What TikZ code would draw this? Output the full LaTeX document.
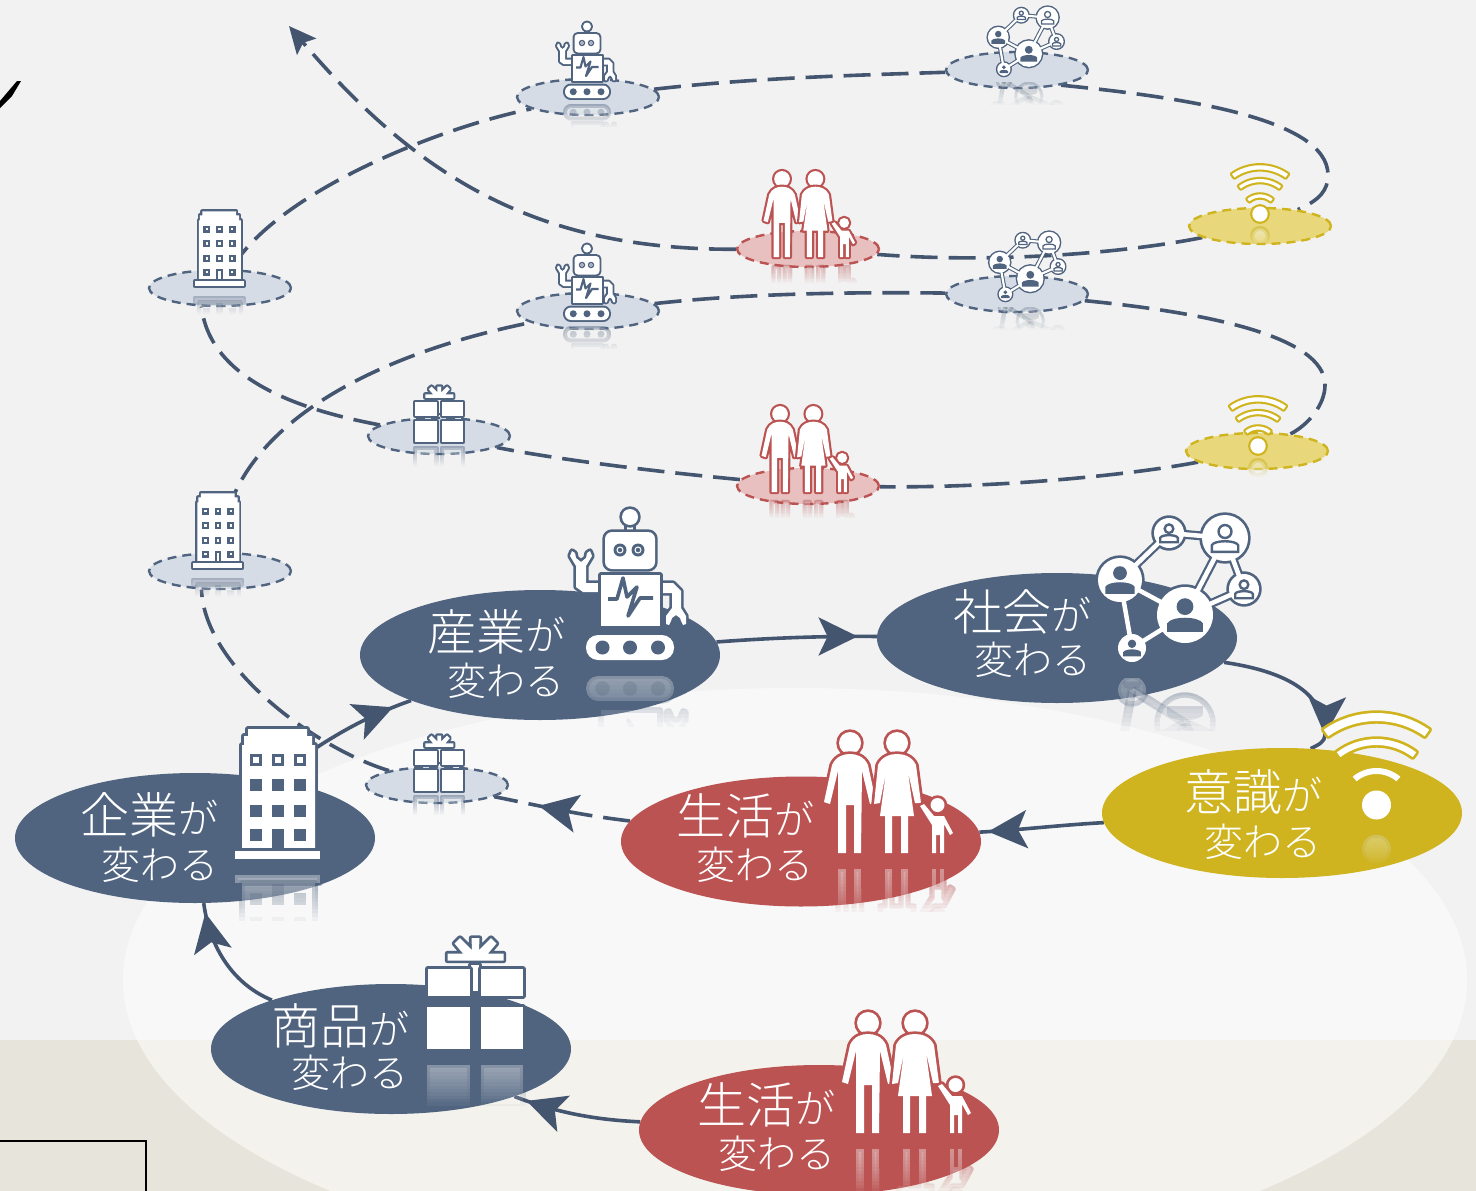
\documentclass[tikz,border=0pt]{standalone}
\usepackage{fontspec}
\setmainfont{Noto Sans CJK JP Light}
\usetikzlibrary{shapes.geometric,arrows.meta,decorations.markings}
\definecolor{iblue}{HTML}{506480}
\definecolor{ired}{HTML}{BC5353}
\definecolor{iyellow}{HTML}{CFB41F}
\definecolor{lineblue}{HTML}{44556F}
\definecolor{sblue}{HTML}{D5DCE6}
\definecolor{sred}{HTML}{E9C0C0}
\definecolor{syellow}{HTML}{E9D87B}
\definecolor{floorc}{HTML}{E7E5DB}
\definecolor{wallc}{HTML}{F2F2F2}
\pgfdeclarelayer{back}
\pgfsetlayers{back,main}
\colorlet{iconc}{iblue}
\def\iconlw{3pt}
\def\iconsc{1}
\tikzset{
  ico/.style={preaction={draw=iconc,line width=1.8*\iconlw,line join=round},fill=white},
  bigell/.style={shape=ellipse,minimum width=360pt,minimum height=130pt,inner sep=0pt},
  smallell/.style={shape=ellipse,minimum width=142pt,minimum height=36pt,inner sep=0pt,line width=2.4pt,dash pattern=on 9pt off 6pt},
  sb/.style={smallell,fill=sblue,draw=iblue},
  sr/.style={smallell,fill=sred,draw=ired},
  sy/.style={smallell,fill=syellow,draw=iyellow},
  lbl/.style={text=white,inner sep=0pt,font=\fontsize{49}{49}\selectfont},
  lbltwo/.style={text=white,inner sep=0pt,font=\fontsize{39}{39}\selectfont},
  conn/.style={draw=lineblue,line width=3.6pt},
  dconn/.style={conn,dash pattern=on 27pt off 11pt},
  bigarrow/.tip={Stealth[length=39pt,width=38pt,inset=9pt]},
  midarrow/.style={postaction={decorate,decoration={markings,mark=at position #1 with {\arrow[lineblue]{bigarrow}}}}}
}
\newcommand\ga{{\fontsize{40}{40}\selectfont が}}
% ---------- icons, drawn in the coordinates of their large copies
\newcommand\robotic{\begin{scope}[shift={(-630,-660)}]
 \path[ico] (627,523) rectangle (633,534);
 \path[ico] (630,517) circle[radius=8];
 \path[ico,rounded corners=7pt*\iconsc] (605,532) rectangle (655,569);
 \foreach \ex in {620,638}{\fill[iconc] (\ex,550) circle[radius=6.5];\draw[white,line width=1pt*\iconsc] (\ex,550) circle[radius=3];}
 \path[ico] (576,566)--(570,556)--(572,551)--(575,553)--(576,558)--(581,562)--(586,558)--(587,553)--(590,551)--(592,556)--(586,566)--(586,583)--(602,583)--(602,592)--(583,592)--(576,587)--cycle;
 \path[ico] (660,583)--(673,583)--(681,591)--(681,608)--(686,616)--(686,624)--(683,625)--(681,621)--(680,618)--(676,615)--(672,618)--(671,621)--(669,625)--(666,624)--(666,616)--(672,608)--(672,593)--(660,593)--cycle;
 \path[ico] (601,575) rectangle (660,626);
 \draw[iconc,line width=3pt*\iconsc+.6pt,line join=round] (608,599)--(617,599)--(623,578)--(627,597)--(637,587)--(628,616)--(640,598)--(653,598);
 \path[ico,rounded corners=12pt*\iconsc] (586,635) rectangle (674,660);
 \foreach \wx in {602.5,630,658}{\fill[iconc] (\wx,647.5) circle[radius=7];}
\end{scope}}
\newcommand\personic[4]{\begin{scope}[shift={(#1,#2)},scale=#3]
 \ifnum#4=1
  \fill[iconc] (0,-.3) circle[radius=.3];
  \fill[iconc] (-.64,.6)--(-.64,.3) .. controls (-.5,.03) and (.5,.03) .. (.64,.3)--(.64,.6)--cycle;
 \else
  \draw[draw=iconc,fill=white,line width=.8*\iconlw] (0,-.27) circle[radius=.27];
  \draw[draw=iconc,fill=white,line width=.8*\iconlw] (-.55,.58)--(-.55,.3) .. controls (-.45,.08) and (.45,.08) .. (.55,.3)--(.55,.58)--cycle;
 \fi
\end{scope}}
\newcommand\netic{\begin{scope}[shift={(-1178,-590)}]
 \foreach \ax/\ay/\bx/\by in {1120/580/1169/533,1169/533/1225/538,1225/538/1185/615,1225/538/1244/589,1244/589/1185/615,1120/580/1185/615,1120/580/1132/648,1185/615/1132/648}{
  \draw[iconc,line width=9pt*\iconsc] (\ax,\ay)--(\bx,\by);}
 \path[ico] (1120,580) circle[radius=22];
 \path[ico] (1169,533) circle[radius=15];
 \path[ico] (1225,538) circle[radius=23];
 \path[ico] (1244,589) circle[radius=15];
 \path[ico] (1185,615) circle[radius=28];
 \path[ico] (1132,648) circle[radius=14];
 \foreach \ax/\ay/\bx/\by in {1120/580/1169/533,1169/533/1225/538,1225/538/1185/615,1225/538/1244/589,1244/589/1185/615,1120/580/1185/615,1120/580/1132/648,1185/615/1132/648}{
  \draw[white,line width=4.5pt*\iconsc] (\ax,\ay)--(\bx,\by);}
 \personic{1120}{580}{23}{1}\personic{1169}{533}{16}{0}\personic{1225}{538}{24}{0}\personic{1244}{589}{16}{0}\personic{1185}{615}{28}{1}\personic{1132}{648}{14}{1}
\end{scope}}
\newcommand\wifisector[3]{\path[ico] plot[domain=-90-#3:-90+#3,samples=17] (\x:#1) -- plot[domain=-90+#3:-90-#3,samples=17] (\x:#2) -- cycle;}
\newcommand\wific{%
 \wifisector{92}{84}{35}\wifisector{66}{60}{37}\wifisector{37}{31}{40}%
 \path[ico] (0,0) circle[radius=14.5];}
\newcommand\familyic{\begin{scope}[shift={(-888,-853)}]
 \path[ico] (850,743) circle[radius=11];
 \path[ico] (897,743) circle[radius=11];
 \path[ico] (846,853)--(838,853)--(838,771)--(830,804)--(824,802)--(832,765) .. controls (836,756) and (844,754) .. (850,754) .. controls (856,754) and (864,756) .. (868,765)--(876,802)--(870,804)--(862,771)--(861,853)--(854,853)--(854,805)--(846,805)--cycle;
 \path[ico] (874,804)--(880,803)--(886,772)--(880,816)--(885,816)--(885,853)--(892,853)--(892,816)--(901,816)--(901,853)--(908,853)--(908,816)--(914,816)--(908,772)--(915,803)--(921,803)--(916,765) .. controls (912,756) and (903,754) .. (897,754) .. controls (891,754) and (882,756) .. (878,765)--cycle;
 \path[ico] (937.5,805) circle[radius=7];
 \path[ico] (932,853)--(932,825)--(920,806)--(924,804)--(934,816)--(944,816)--(953,833)--(950,835)--(944,824)--(944,853)--(940,853)--(940,835)--(936,835)--(936,853)--cycle;
\end{scope}}
\newcommand\giftic{\begin{scope}[shift={(-475,-1049)}]
 \path[ico] (454.5,943.5)--(460,938)--(472,950)--(471.5,938)--(479.5,938)--(479,950)--(491,938)--(496.5,943.5)--(488,953.5)--(503.5,953.5)--(503.5,960.5)--(447.5,960.5)--(447.5,953.5)--(463,953.5)--cycle;
 \path[ico] (471,965) rectangle (479,991);
 \path[ico] (427.5,969) rectangle (470,996);
 \path[ico] (480.5,969) rectangle (523,996);
 \path[ico] (427,1007) rectangle (470,1049);
 \path[ico] (481,1007) rectangle (523,1049);
\end{scope}}
\newif\ifsmallwin
\newcommand\buildingic{\begin{scope}[shift={(-278,-859)}]
 \path[ico] (242,851)--(242,745)--(244,745)--(244,736)--(248,736)--(248,729)--(307,729)--(307,736)--(312,736)--(312,745)--(315,745)--(315,851)--cycle;
 \path[ico] (235,851) rectangle (320,859);
 \foreach \wx in {250,272,294}{\foreach \wy in {754,779,805,829}{
   \ifnum\wx=272 \ifnum\wy=829 \else \fill[iconc] (\wx,\wy) rectangle ++(12,12);\fi\else \fill[iconc] (\wx,\wy) rectangle ++(12,12);\fi
   \ifsmallwin \fill[white] (\wx+4,\wy+4) rectangle ++(4,4);\else\ifnum\wy=754 \fill[white] (\wx+3,\wy+3) rectangle ++(6,6);\fi\fi }}
 \fill[iconc] (272,829) rectangle (284,850);
 \ifsmallwin\fill[white] (276,833) rectangle (280,847);\fi
\end{scope}}
% placing: x, y, scale, line width, icon
\newcommand\place[5]{\begingroup\def\iconsc{#3}\def\iconlw{#4}\begin{scope}[shift={(#1,#2)},scale=#3]#5\end{scope}\endgroup}
% reflection: axis y, first y, fade length, start opacity, code (overlapping bands build the fade)
\newcommand\reflectic[5]{\foreach \si in {1,...,12}{%
 \pgfmathsetmacro\sb{#2+\si*(#3)/12}\pgfmathsetmacro\so{1-(1-(#4))^(1/12)}%
 \begin{scope}\clip (0,#2) rectangle (1476,\sb);
 \begin{scope}[opacity=\so,shift={(0,2*#1)},yscale=-1]#5\end{scope}\end{scope}}}
\begin{document}
\begin{tikzpicture}[x=1pt,y=-1pt]
\useasboundingbox (0,0) rectangle (1476,1191);
\begin{pgfonlayer}{back}
 \fill[wallc] (0,0) rectangle (1476,1191);
 \fill[floorc] (0,1040) rectangle (1476,1191);
 \fill[white,opacity=.5] (795,980) ellipse [x radius=672,y radius=292];
 \draw[black,line width=2pt] (0,1141)--(146,1141)--(146,1191);
 \fill[black] (0,101)--(17,81)--(21,81)--(12,96)--(0,108)--cycle;
\end{pgfonlayer}
% big ellipses
\node[bigell,fill=iblue] (shohin) at (391,1049) {};
\node[bigell,fill=iblue] (kigyo) at (195,838) {};
\node[bigell,fill=iblue] (sangyo) at (540,655) {};
\node[bigell,fill=iblue] (shakai) at (1057,638) {};
\node[bigell,fill=iyellow] (ishiki) at (1282,813) {};
\node[bigell,fill=ired] (seikatsu) at (801,841.5) {};
\node[bigell,fill=ired] (seikatsub) at (819,1130) {};
% small ellipses
\node[sb] (robota) at (588,97) {};
\node[sb] (neta) at (1017,70) {};
\node[sy] (wifia) at (1260,226) {};
\node[sr] (fama) at (808,249) {};
\node[sb] (blda) at (220,288) {};
\node[sb] (robotb) at (588,311) {};
\node[sb] (netb) at (1017,294) {};
\node[sy] (wifib) at (1257,451) {};
\node[sr] (famb) at (808,486) {};
\node[sb] (gifta) at (439,436) {};
\node[sb] (bldb) at (220,571) {};
\node[sb] (giftb) at (437,785) {};
\coordinate (turna) at (1328,175);
\coordinate (turnb) at (1325,385);
\coordinate (turnc) at (1325,735);
\coordinate (atip) at (289,26);
% connectors
\begin{pgfonlayer}{back}
 \draw[conn,midarrow=.9] (seikatsub) .. controls (600,1120) and (560,1114) .. (shohin);
 \draw[conn,midarrow=.92] (shohin) .. controls (235,985) and (210,950) .. (kigyo);
 \draw[conn,midarrow=.88] (kigyo) .. controls (330,735) and (370,715) .. (sangyo);
 \draw[conn,midarrow=.88] (sangyo) .. controls (770,638) and (820,636) .. (shakai);
 \draw[conn,midarrow=.87] (shakai) .. controls (1290,672) and (1325,695) .. (turnc) .. controls (1325,742) and (1318,745) .. (ishiki.66);
 \draw[conn,midarrow=.93] (ishiki) .. controls (1060,825) and (1020,830) .. (seikatsu);
 \draw[dconn,midarrow=.67] (seikatsu) .. controls (580,815) and (550,808) .. (giftb);
 \draw[dconn] (giftb) .. controls (320,750) and (205,670) .. (bldb.225);
 \draw[dconn] (bldb) .. controls (225,430) and (370,355) .. (robotb);
 \draw[dconn] (robotb) .. controls (750,293) and (860,292) .. (netb);
 \draw[dconn] (netb) .. controls (1200,312) and (1325,335) .. (turnb) .. controls (1325,405) and (1308,425) .. (wifib);
 \draw[dconn] (wifib) .. controls (1130,475) and (1000,488) .. (famb);
 \draw[dconn] (famb) .. controls (660,472) and (560,460) .. (gifta);
 \draw[dconn] (gifta) .. controls (300,410) and (210,380) .. (blda.225);
 \draw[dconn] (blda) .. controls (275,195) and (430,130) .. (robota);
 \draw[dconn] (robota) .. controls (750,78) and (860,75) .. (neta);
 \draw[dconn] (neta.-19) .. controls (1180,97) and (1328,118) .. (turna) .. controls (1328,190) and (1320,200) .. (wifia);
 \draw[dconn] (wifia) .. controls (1130,252) and (1000,264) .. (fama);
 \draw[dconn,-{Stealth[length=27pt,width=25pt,inset=5pt]}] (fama) .. controls (540,250) and (420,180) .. (atip);
\end{pgfonlayer}
% reflections
\colorlet{iconc}{iblue}
\reflectic{668}{676}{50}{.42}{\place{630}{660}{1}{3pt}{\robotic}}
\reflectic{669}{678}{52}{.4}{\place{1178}{590}{1}{3pt}{\netic}}
\reflectic{867}{875}{45}{.5}{\place{278}{859}{1}{3pt}{\buildingic}}
\reflectic{1057}{1065}{40}{.45}{\place{475}{1049}{1}{3pt}{\giftic}}
\smallwintrue
\reflectic{292}{291}{22}{.4}{\place{219.5}{286}{.575}{2.4pt}{\buildingic}}
\reflectic{574}{573}{22}{.4}{\place{218}{568}{.575}{2.4pt}{\buildingic}}
\smallwinfalse
\reflectic{102}{102}{24}{.4}{\place{587}{98}{.5}{2.2pt}{\robotic}}
\reflectic{324}{324}{24}{.4}{\place{587}{320}{.5}{2.2pt}{\robotic}}
\reflectic{75}{82}{22}{.3}{\place{1025.5}{42}{.47}{1.6pt}{\netic}}
\reflectic{300}{307}{22}{.3}{\place{1027}{267}{.47}{1.6pt}{\netic}}
\reflectic{445}{445}{20}{.4}{\place{439}{442}{.5}{2.4pt}{\giftic}}
\reflectic{794}{794}{20}{.4}{\place{439}{791}{.5}{2.4pt}{\giftic}}
\colorlet{iconc}{iyellow}
\reflectic{827}{835}{30}{.35}{\place{1376.5}{805}{1}{3pt}{\wific}}
\reflectic{225}{226}{18}{.5}{\place{1260}{214}{.53}{2.4pt}{\wific}}
\reflectic{457}{458}{18}{.5}{\place{1258}{446}{.53}{2.4pt}{\wific}}
\colorlet{iconc}{ired}
\reflectic{861}{869}{42}{.55}{\place{888}{853}{1}{3pt}{\familyic}}
\reflectic{1141}{1149}{42}{.55}{\place{906}{1133}{1}{3pt}{\familyic}}
\reflectic{262}{262}{20}{.45}{\place{809}{257}{.71}{2.4pt}{\familyic}}
\reflectic{497}{497}{20}{.45}{\place{807}{492}{.71}{2.4pt}{\familyic}}
% icons
\place{888}{853}{1}{3pt}{\familyic}
\place{906}{1133}{1}{3pt}{\familyic}
\place{809}{257}{.71}{2.4pt}{\familyic}
\place{807}{492}{.71}{2.4pt}{\familyic}
\colorlet{iconc}{iyellow}
\place{1376.5}{805}{1}{3pt}{\wific}
\place{1260}{214}{.53}{2.4pt}{\wific}
\place{1258}{446}{.53}{2.4pt}{\wific}
\colorlet{iconc}{iblue}
\place{630}{660}{1}{3pt}{\robotic}
\place{587}{98}{.5}{2.2pt}{\robotic}
\place{587}{320}{.5}{2.2pt}{\robotic}
\place{1178}{590}{1}{3pt}{\netic}
\place{1025.5}{42}{.47}{1.6pt}{\netic}
\place{1027}{267}{.47}{1.6pt}{\netic}
\place{278}{859}{1}{3pt}{\buildingic}
\place{475}{1049}{1}{3pt}{\giftic}
\place{439}{442}{.5}{2.4pt}{\giftic}
\place{439}{791}{.5}{2.4pt}{\giftic}
\smallwintrue
\place{219.5}{286}{.575}{2.4pt}{\buildingic}
\place{218}{568}{.575}{2.4pt}{\buildingic}
\smallwinfalse
% labels
\node[lbl] (ta) at (340,1026) {商品\ga};
\node[lbltwo] (tb) at (350,1073) {変わる};
\node[lbl] (tc) at (149,815) {企業\ga};
\node[lbltwo] (td) at (160,865) {変わる};
\node[lbl] (te) at (496,632) {産業\ga};
\node[lbltwo] (tf) at (506,681) {変わる};
\node[lbl] (tg) at (1022,612) {社会\ga};
\node[lbltwo] (th) at (1033,660) {変わる};
\node[lbl] (ti) at (1253,792) {意識\ga};
\node[lbltwo] (tj) at (1263,842) {変わる};
\node[lbl] (tk) at (745,816) {生活\ga};
\node[lbltwo] (tl) at (755,865) {変わる};
\node[lbl] (tm) at (766,1105) {生活\ga};
\node[lbltwo] (tn) at (777,1154) {変わる};
\end{tikzpicture}
\end{document}
